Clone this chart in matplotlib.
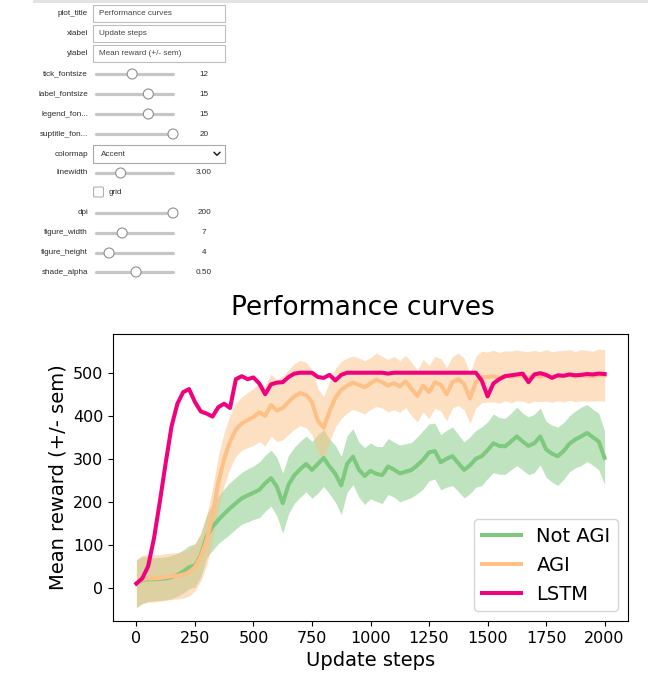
import numpy as np
import matplotlib
matplotlib.use("Agg")
import matplotlib.pyplot as plt
from matplotlib.patches import Rectangle, Circle, FancyBboxPatch

# ---------------- data ----------------
steps = np.arange(0, 2001, 25)

not_agi_mean = [10, 18, 20, 20, 21, 22, 25, 30, 38, 48,
                52, 75, 120, 142, 158, 172, 185, 197, 208, 215,
                221, 228, 243, 255, 235, 197, 240, 262, 276, 288,
                274, 288, 302, 282, 265, 238, 288, 305, 275, 260,
                272, 265, 262, 282, 275, 266, 270, 274, 285, 298,
                315, 318, 292, 300, 306, 290, 274, 285, 300, 306,
                320, 336, 330, 329, 340, 352, 340, 330, 336, 352,
                322, 312, 306, 318, 335, 345, 352, 360, 350, 340,
                302]
not_agi_sem = [55, 55, 52, 50, 50, 50, 50, 50, 50, 50,
               50, 50, 50, 55, 55, 58, 60, 60, 60, 62,
               62, 65, 65, 65, 68, 70, 68, 65, 65, 65,
               66, 68, 66, 64, 66, 68, 66, 65, 64, 66,
               65, 64, 66, 65, 64, 66, 65, 64, 66, 68,
               66, 65, 64, 66, 68, 66, 65, 66, 66, 68,
               66, 68, 66, 65, 66, 68, 66, 67, 68, 66,
               65, 66, 68, 66, 65, 66, 68, 66, 65, 66,
               62]

agi_mean = [10, 20, 22, 22, 23, 25, 27, 28, 31, 36,
            48, 72, 110, 170, 245, 300, 340, 368, 382, 390,
            397, 408, 400, 425, 412, 418, 432, 445, 453, 448,
            432, 388, 372, 410, 442, 460, 470, 477, 472, 466,
            475, 484, 478, 470, 476, 468, 480, 462, 446, 470,
            455, 478, 472, 450, 478, 485, 474, 440, 478, 490,
            490, 492, 488, 493, 490, 494, 492, 489, 493, 491,
            494, 490, 493, 492, 495, 491, 494, 493, 492, 495,
            494]
agi_sem = [56, 56, 55, 55, 54, 54, 54, 54, 55, 55,
           55, 56, 58, 60, 62, 62, 62, 62, 62, 64,
           66, 68, 70, 72, 72, 74, 75, 76, 76, 76,
           76, 75, 72, 70, 68, 66, 64, 62, 62, 62,
           60, 62, 60, 61, 62, 60, 61, 62, 60, 61,
           62, 60, 61, 62, 60, 61, 60, 58, 60, 60,
           58, 60, 59, 58, 60, 59, 58, 60, 59, 58,
           60, 59, 58, 60, 59, 58, 60, 59, 58, 60,
           60]

lstm_mean = [10, 22, 50, 115, 200, 290, 375, 428, 455, 462,
             432, 410, 405, 398, 420, 428, 418, 485, 492, 485,
             489, 475, 450, 473, 477, 478, 490, 498, 500, 500,
             500, 490, 488, 495, 482, 495, 500, 500, 500, 500,
             500, 500, 500, 498, 500, 500, 500, 500, 500, 500,
             500, 500, 500, 500, 500, 500, 500, 500, 500, 482,
             445, 475, 485, 492, 494, 496, 498, 478, 496, 499,
             495, 488, 494, 493, 496, 494, 495, 497, 496, 498,
             497]

series_names = ["Not AGI", "AGI", "LSTM"]
series_colors = ["#7fc97f", "#fdc086", "#f0027f"]

xticks = [0, 250, 500, 750, 1000, 1250, 1500, 1750, 2000]
yticks = [0, 100, 200, 300, 400, 500]

# widget panel content
text_labels = ["plot_title", "xlabel", "ylabel"]
text_values = ["Performance curves", "Update steps", "Mean reward (+/- sem)"]
slider_labels1 = ["tick_fontsize", "label_fontsize", "legend_fon...", "suptitle_fon..."]
slider_pos1 = [0.47, 0.68, 0.68, 1.0]
slider_vals1 = ["12", "15", "15", "20"]
dropdown_label = "colormap"
dropdown_value = "Accent"
lw_label, lw_pos, lw_val = "linewidth", 0.32, "3.00"
check_label = "grid"
slider_labels2 = ["dpi", "figure_width", "figure_height", "shade_alpha"]
slider_pos2 = [1.0, 0.34, 0.17, 0.52]
slider_vals2 = ["200", "7", "4", "0.50"]

# ---------------- figure ----------------
W, H = 648, 680
fig = plt.figure(figsize=(W / 100, H / 100), dpi=100)
fig.patch.set_facecolor("white")

ui = fig.add_axes([0, 0, 1, 1])
ui.set_xlim(0, W)
ui.set_ylim(H, 0)
ui.axis("off")

UI_FONT = ["Liberation Sans", "DejaVu Sans"]
FS = 5.9
LBL_C = "#2b2b2b"

# top band
ui.add_patch(Rectangle((33, 0), W - 33, 2.5, facecolor="#e3e3e3", edgecolor="none"))

def label(y, txt):
    ui.text(88, y, txt, ha="right", va="center", fontsize=FS, family=UI_FONT, color=LBL_C)

def textbox(y, txt):
    ui.add_patch(Rectangle((93, y - 8.5), 132, 17, facecolor="white", edgecolor="#bdbdbd", lw=0.8))
    ui.text(99, y, txt, ha="left", va="center", fontsize=FS, family=UI_FONT, color="#444444")

def slider(y, frac, val):
    x0, x1 = 96, 173
    ui.plot([x0, x1], [y, y], color="#c6c6c6", lw=2.3, solid_capstyle="round", zorder=2)
    kx = x0 + frac * (x1 - x0)
    ui.add_patch(Circle((kx, y), 5.0, facecolor="white", edgecolor="#8f8f8f", lw=0.8, zorder=3))
    ui.text(204, y, val, ha="center", va="center", fontsize=FS, family=UI_FONT, color=LBL_C)

rows_y_text = [13.5, 33.5, 53.5]
for yy, l, v in zip(rows_y_text, text_labels, text_values):
    label(yy, l)
    textbox(yy, v)

rows_y_s1 = [74, 94, 114, 134]
for yy, l, p, v in zip(rows_y_s1, slider_labels1, slider_pos1, slider_vals1):
    label(yy, l)
    slider(yy, p, v)

# dropdown
yd = 154
label(yd, dropdown_label)
ui.add_patch(Rectangle((93, yd - 9), 132, 18, facecolor="white", edgecolor="#a9a9a9", lw=0.8))
ui.text(101, yd, dropdown_value, ha="left", va="center", fontsize=FS, family=UI_FONT, color="#333333")
ui.plot([214, 217, 220], [152.3, 155.3, 152.3], color="#222222", lw=1.1, solid_capstyle="round")

# linewidth slider
label(173, lw_label)
slider(173, lw_pos, lw_val)

# checkbox
ui.add_patch(FancyBboxPatch((93.5, 187), 10, 10, boxstyle="round,pad=0,rounding_size=1.5",
                            facecolor="white", edgecolor="#b0b0b0", lw=0.8))
ui.text(109, 192.5, check_label, ha="left", va="center", fontsize=FS, family=UI_FONT, color=LBL_C)

rows_y_s2 = [213, 233, 253, 272]
for yy, l, p, v in zip(rows_y_s2, slider_labels2, slider_pos2, slider_vals2):
    label(yy, l)
    slider(yy, p, v)

# ---------------- chart ----------------
ax = fig.add_axes([113 / W, 1 - 621 / H, 515 / W, 287 / H])
means = [np.array(not_agi_mean), np.array(agi_mean), np.array(lstm_mean)]
sems = [np.array(not_agi_sem), np.array(agi_sem), None]
for name, m, s, c in zip(series_names, means, sems, series_colors):
    if s is not None:
        ax.fill_between(steps, m - s, m + s, color=c, alpha=0.5, lw=0)
    ax.plot(steps, m, color=c, lw=2.9, label=name)

ax.set_xlim(-100, 2100)
ax.set_ylim(-77, 590)
ax.set_xticks(xticks)
ax.set_yticks(yticks)
ax.tick_params(labelsize=11.5)
ax.set_xlabel("Update steps", fontsize=14)
ax.set_ylabel("Mean reward (+/- sem)", fontsize=14)
leg = ax.legend(loc="lower right", fontsize=14)
for ln in leg.get_lines():
    ln.set_linewidth(2.9)

fig.text(363 / W, 1 - 308 / H, "Performance curves", ha="center", va="center", fontsize=19)

fig.savefig("out.png", dpi=100)
